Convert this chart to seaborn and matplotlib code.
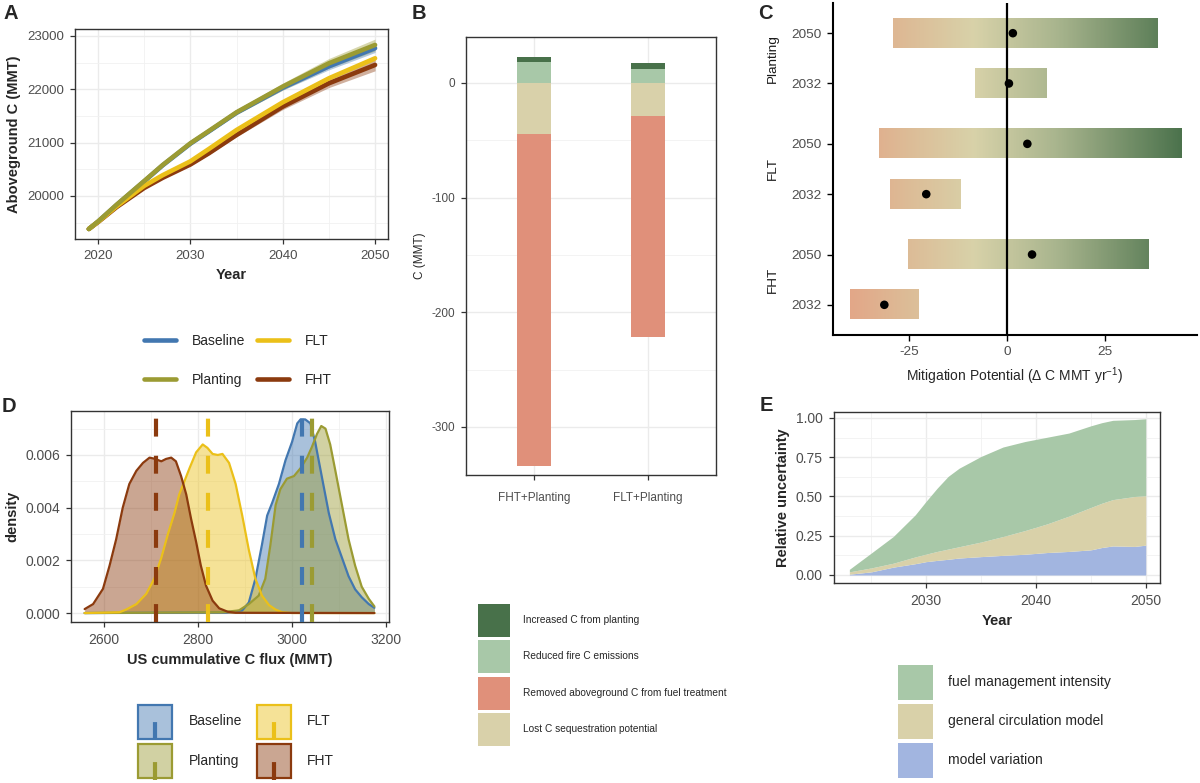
import numpy as np
import pandas as pd
import matplotlib
matplotlib.use("Agg")
import matplotlib.pyplot as plt
import seaborn as sns
from matplotlib.colors import LinearSegmentedColormap, Normalize, to_rgba
from matplotlib.lines import Line2D
from matplotlib.patches import Patch, Rectangle
from matplotlib.legend_handler import HandlerBase
from matplotlib.ticker import FixedLocator, FormatStrFormatter

sns.set_theme(style="ticks")
plt.rcParams["font.family"] = ["Liberation Sans", "DejaVu Sans"]
plt.rcParams["mathtext.fontset"] = "custom"
plt.rcParams["mathtext.rm"] = "Liberation Sans"
plt.rcParams["mathtext.it"] = "Liberation Sans:italic"
plt.rcParams["mathtext.default"] = "regular"
plt.rcParams["axes.unicode_minus"] = False

# ---------------- data ----------------
scenarios = ["Baseline", "FLT", "Planting", "FHT"]
scen_colors = {"Baseline": "#4277B0", "FLT": "#EBC019", "Planting": "#9B9B33", "FHT": "#8B3A0E"}

# Panel A: aboveground C (MMT)
years_a = [2019, 2020, 2022, 2025, 2027, 2030, 2032, 2035, 2040, 2045, 2050]
agc_baseline = [19381, 19520, 19830, 20275, 20575, 20980, 21210, 21560, 22030, 22430, 22770]
agc_planting = [19381, 19522, 19835, 20281, 20581, 20988, 21219, 21569, 22050, 22487, 22831]
agc_flt = [19381, 19515, 19805, 20190, 20390, 20650, 20881, 21237, 21756, 22206, 22581]
agc_fht = [19381, 19510, 19790, 20150, 20340, 20590, 20800, 21144, 21675, 22112, 22456]
band_baseline = [0, 5, 8, 12, 15, 20, 25, 30, 45, 65, 80]
band_planting = [0, 5, 8, 15, 20, 30, 35, 45, 65, 90, 110]
band_flt = [0, 4, 6, 10, 12, 15, 18, 22, 28, 35, 45]
band_fht = [0, 5, 8, 12, 15, 20, 25, 35, 55, 80, 110]

# Panel B: stacked C components (MMT)
b_categories = ["FHT+Planting", "FLT+Planting"]
b_increased_planting = [4.7, 5.0]
b_reduced_fire = [18.0, 12.2]
b_removed_treatment = [-289.0, -193.5]
b_lost_sequestration = [-45.0, -28.5]
b_labels = ["Increased C from planting", "Reduced fire C emissions",
            "Removed aboveground C from fuel treatment", "Lost C sequestration potential"]
b_colors = ["#48714A", "#A8C8A8", "#E0907A", "#D9D1AA"]

# Panel C: mitigation potential ranges
c_scenario = ["FHT", "FHT", "FLT", "FLT", "Planting", "Planting"]
c_year = ["2032", "2050", "2032", "2050", "2032", "2050"]
c_low = [-40.1, -25.3, -29.9, -32.7, -8.2, -29.1]
c_high = [-22.5, 36.2, -12.0, 44.6, 10.0, 38.3]
c_mid = [-31.3, 6.4, -20.6, 5.2, 0.5, 1.5]

# Panel D: density curves of cumulative C flux
d_x = {
    "FHT": [2559, 2577, 2598, 2612, 2626, 2640, 2654, 2669, 2683, 2697, 2707, 2722, 2732, 2743, 2753, 2764,
            2775, 2785, 2796, 2806, 2817, 2831, 2845, 2863, 2880, 3175],
    "FLT": [2559, 2633, 2647, 2669, 2690, 2707, 2722, 2736, 2750, 2760, 2771, 2782, 2796, 2810, 2820, 2831,
            2842, 2852, 2866, 2880, 2894, 2908, 2922, 2936, 2951, 2965, 2979, 3000, 3175],
    "Baseline": [2559, 2860, 2894, 2908, 2922, 2936, 2947, 2958, 2972, 2986, 3000, 3011, 3018, 3028, 3039,
                 3049, 3064, 3078, 3092, 3106, 3120, 3134, 3148, 3163, 3175],
    "Planting": [2559, 2850, 2887, 2908, 2929, 2943, 2954, 2965, 2975, 2989, 3004, 3018, 3032, 3042, 3053,
                 3062, 3071, 3081, 3092, 3106, 3120, 3134, 3148, 3163, 3175],
}
d_y = {
    "FHT": [0.00015, 0.00034, 0.00092, 0.0018, 0.0028, 0.0040, 0.0049, 0.0054, 0.0057, 0.0059, 0.00586,
            0.00576, 0.00585, 0.0059, 0.00576, 0.0052, 0.0045, 0.0036, 0.0027, 0.0018, 0.00104, 0.00047,
            0.00018, 0.00005, 0.00001, 0.0],
    "FLT": [0.0, 0.00003, 0.00013, 0.00034, 0.00073, 0.0013, 0.0021, 0.0030, 0.0038, 0.0045, 0.0050, 0.0055,
            0.0061, 0.0064, 0.00627, 0.00604, 0.0060, 0.00604, 0.0057, 0.0049, 0.0037, 0.0024, 0.0013,
            0.00066, 0.0003, 0.00013, 0.00003, 0.0, 0.0],
    "Baseline": [0.0, 0.00002, 0.0001, 0.0004, 0.0013, 0.0026, 0.0037, 0.0042, 0.0049, 0.0058, 0.0065,
                 0.0072, 0.00735, 0.00735, 0.0072, 0.0065, 0.0051, 0.0038, 0.0028, 0.0021, 0.0014, 0.0009,
                 0.0006, 0.00034, 0.0002],
    "Planting": [0.0, 0.00003, 0.0001, 0.00034, 0.00066, 0.0013, 0.0026, 0.0041, 0.0047, 0.0051, 0.0052,
                 0.0055, 0.0059, 0.0063, 0.0068, 0.0071, 0.0070, 0.0064, 0.0054, 0.0041, 0.0028, 0.0018,
                 0.0010, 0.00054, 0.00025],
}
d_mean = {"Baseline": 3021, "FLT": 2821, "Planting": 3042, "FHT": 2710}

# Panel E: relative uncertainty partition (layer thickness)
years_e = [2023, 2025, 2027, 2029, 2030, 2031, 2032, 2033, 2035, 2037, 2039, 2041, 2043, 2045, 2046, 2047, 2049, 2050]
unc_model_variation = [0.005, 0.020, 0.050, 0.072, 0.085, 0.093, 0.100, 0.108, 0.117, 0.125, 0.132, 0.143,
                       0.150, 0.160, 0.175, 0.185, 0.182, 0.190]
unc_gcm = [0.015, 0.025, 0.025, 0.043, 0.048, 0.057, 0.065, 0.072, 0.093, 0.120, 0.151, 0.182, 0.225, 0.270,
           0.282, 0.295, 0.318, 0.315]
unc_fuel_mgmt = [0.016, 0.095, 0.170, 0.268, 0.337, 0.403, 0.463, 0.500, 0.545, 0.570, 0.567, 0.552, 0.529,
                 0.520, 0.513, 0.505, 0.490, 0.490]
e_labels = ["model variation", "general circulation model", "fuel management intensity"]
e_colors = ["#A2B5E0", "#D9D1A9", "#A8C8A8"]

# ---------------- helpers ----------------
TICK_COL = "#4D4D4D"


def theme_bw(ax, labelsize=9.5, pad=4.5):
    ax.set_facecolor("white")
    for s in ax.spines.values():
        s.set_visible(True)
        s.set_color("#333333")
        s.set_linewidth(1.0)
    ax.grid(True, which="major", color="#EBEBEB", lw=1.0)
    ax.grid(True, which="minor", color="#F1F1F1", lw=0.6)
    ax.set_axisbelow(True)
    ax.tick_params(which="major", length=3.5, width=0.9, color="#333333",
                   labelcolor=TICK_COL, labelsize=labelsize, pad=pad,
                   bottom=True, left=True, top=False, right=False)
    ax.tick_params(which="minor", length=0)


W, H = 1200, 783
fig = plt.figure(figsize=(W / 100, H / 100), dpi=100)


def add_ax(l, r, t, b):
    return fig.add_axes([l / W, 1 - b / H, (r - l) / W, (b - t) / H])


# ---------------- Panel A ----------------
axA = add_ax(75, 388, 29, 239)
theme_bw(axA)
recs = []
bands = {"Baseline": band_baseline, "Planting": band_planting, "FLT": band_flt, "FHT": band_fht}
vals = {"Baseline": agc_baseline, "Planting": agc_planting, "FLT": agc_flt, "FHT": agc_fht}
for s in scenarios:
    for yr, v in zip(years_a, vals[s]):
        recs.append({"Year": yr, "C": v, "scenario": s})
dfA = pd.DataFrame(recs)
order_a = ["Baseline", "FHT", "FLT", "Planting"]
for s in order_a:
    v = np.array(vals[s], float)
    b = np.array(bands[s], float)
    axA.fill_between(years_a, v - b, v + b, color=scen_colors[s], alpha=0.4, lw=0)
sns.lineplot(data=dfA, x="Year", y="C", hue="scenario", hue_order=order_a, palette=scen_colors,
             lw=3.3, legend=False, ax=axA, estimator=None)
axA.set_xlim(2017.5, 2051.4)
axA.set_ylim(19193, 23130)
axA.xaxis.set_major_locator(FixedLocator([2020, 2030, 2040, 2050]))
axA.xaxis.set_minor_locator(FixedLocator([2025, 2035, 2045]))
axA.yaxis.set_major_locator(FixedLocator([20000, 21000, 22000, 23000]))
axA.yaxis.set_minor_locator(FixedLocator([19500, 20500, 21500, 22500]))
axA.set_xlabel("Year", fontsize=10.5, fontweight="bold", labelpad=4)
axA.set_ylabel("Aboveground C (MMT)", fontsize=10.5, fontweight="bold", labelpad=4)

hA = [Line2D([], [], color=scen_colors[s], lw=3.3) for s in ["Baseline", "Planting", "FLT", "FHT"]]
fig.legend(hA, ["Baseline", "Planting", "FLT", "FHT"], ncol=2, loc="center",
           bbox_to_anchor=(238 / W, 1 - 360.5 / H), frameon=False, fontsize=10,
           handlelength=2.3, handletextpad=1.15, columnspacing=0.9, labelspacing=1.75,
           borderpad=0)

# ---------------- Panel B ----------------
axB = add_ax(466, 716, 37, 475)
theme_bw(axB, labelsize=8.5)
axB.tick_params(axis="x", pad=9)
xb = np.arange(len(b_categories))
bw_ = 0.3
kw = dict(width=bw_, zorder=2, edgecolor="none", linewidth=0)
axB.bar(xb, b_reduced_fire, color=b_colors[1], **kw)
axB.bar(xb, b_increased_planting, bottom=b_reduced_fire, color=b_colors[0], **kw)
axB.bar(xb, b_lost_sequestration, color=b_colors[3], **kw)
axB.bar(xb, b_removed_treatment, bottom=b_lost_sequestration, color=b_colors[2], **kw)
axB.set_xlim(-0.6, 1.6)
axB.set_ylim(-342, 40)
axB.set_xticks(xb)
axB.set_xticklabels(b_categories)
axB.yaxis.set_major_locator(FixedLocator([-300, -200, -100, 0]))
axB.yaxis.set_minor_locator(FixedLocator([-250, -150, -50]))
axB.set_ylabel("C (MMT)", fontsize=8.5, labelpad=4)
axB.set_xlabel("")

hB = [Patch(facecolor=c, edgecolor="none") for c in b_colors]
fig.legend(hB, b_labels, loc="center", bbox_to_anchor=(602 / W, 1 - 675 / H), frameon=False,
           fontsize=7.3, handlelength=3.17, handleheight=4.64, labelspacing=0.3,
           handletextpad=1.3, borderpad=0)

# ---------------- Panel C ----------------
axC = add_ax(833, 1197, 3, 335)
group_order = ["FHT", "FLT", "Planting"]
c_ypos = [group_order.index(s) * 2.2 + (0 if y == "2032" else 1) for s, y in zip(c_scenario, c_year)]
cmap = LinearSegmentedColormap.from_list(
    "mit", [(0.0, "#E3A486"), (0.18, "#DDBB96"), (0.38, "#D8D2A9"), (0.62, "#A9B58E"), (1.0, "#48704A")])
norm = Normalize(vmin=-42, vmax=46)
for lo, hi, yp in zip(c_low, c_high, c_ypos):
    grad = np.linspace(lo, hi, 256)[None, :]
    axC.imshow(grad, cmap=cmap, norm=norm, extent=(lo, hi, yp - 0.29, yp + 0.29),
               aspect="auto", origin="lower", zorder=1, interpolation="bilinear")
axC.axvline(0, color="black", lw=1.6, zorder=2)
sns.scatterplot(x=c_mid, y=c_ypos, color="black", s=38, edgecolor="none", ax=axC, zorder=3)
axC.set_xlim(-44.4, 48.5)
axC.set_ylim(-0.6, 6.0)
axC.set_facecolor("white")
axC.spines["top"].set_visible(False)
axC.spines["right"].set_visible(False)
for s in ["left", "bottom"]:
    axC.spines[s].set_color("black")
    axC.spines[s].set_linewidth(1.5)
axC.set_xticks([-25, 0, 25])
axC.set_yticks(c_ypos)
axC.set_yticklabels(c_year)
axC.tick_params(length=4, width=1.0, color="black", labelcolor=TICK_COL, labelsize=9.7, pad=4)
axC.set_xlabel("Mitigation Potential (Δ C MMT yr$^{-1}$)", fontsize=10, labelpad=5)
for g in group_order:
    ys = [yp for yp, s in zip(c_ypos, c_scenario) if s == g]
    axC.text(-0.166, np.mean(ys), g, rotation=90, ha="center", va="center", fontsize=9.7,
             color="#1A1A1A", transform=axC.get_yaxis_transform())

# ---------------- Panel D ----------------
axD = add_ax(71, 389, 411, 622)
theme_bw(axD, labelsize=10)
recs = []
for s in scenarios:
    for xv, yv in zip(d_x[s], d_y[s]):
        recs.append({"flux": xv, "density": yv, "scenario": s})
dfD = pd.DataFrame(recs)
order_d = ["Baseline", "Planting", "FLT", "FHT"]
for s in order_d:
    axD.fill_between(d_x[s], 0, d_y[s], color=scen_colors[s], alpha=0.45, lw=0, zorder=2)
sns.lineplot(data=dfD, x="flux", y="density", hue="scenario", hue_order=order_d, palette=scen_colors,
             lw=1.6, legend=False, ax=axD, estimator=None, sort=False, zorder=3)
for s in order_d:
    axD.axvline(d_mean[s], color=scen_colors[s], lw=3.0, dashes=(4.3, 4.6), zorder=4)
axD.set_xlim(2530, 3206)
axD.set_ylim(-0.00034, 0.00767)
axD.xaxis.set_major_locator(FixedLocator([2600, 2800, 3000, 3200]))
axD.xaxis.set_minor_locator(FixedLocator([2700, 2900, 3100]))
axD.yaxis.set_major_locator(FixedLocator([0, 0.002, 0.004, 0.006]))
axD.yaxis.set_minor_locator(FixedLocator([0.001, 0.003, 0.005, 0.007]))
axD.yaxis.set_major_formatter(FormatStrFormatter("%.3f"))
axD.set_xlabel("US cummulative C flux (MMT)", fontsize=10.5, fontweight="bold", labelpad=4)
axD.set_ylabel("density", fontsize=10.5, fontweight="bold", labelpad=4)


class DensityKey(HandlerBase):
    def create_artists(self, legend, orig_handle, xdescent, ydescent, width, height, fontsize, trans):
        c = orig_handle.get_edgecolor()
        r = Rectangle((-xdescent + 1, -ydescent + 1), width - 2, height - 2,
                      facecolor=to_rgba(c, 0.45), edgecolor=c, lw=1.6, transform=trans)
        cx = -xdescent + width / 2
        ln = Line2D([cx, cx], [-ydescent, -ydescent + height], color=c, lw=3.0,
                    dashes=(4.3, 4.6), transform=trans)
        return [r, ln]


hD = [Patch(edgecolor=scen_colors[s], facecolor=scen_colors[s]) for s in ["Baseline", "Planting", "FLT", "FHT"]]
fig.legend(hD, ["Baseline", "Planting", "FLT", "FHT"], ncol=2, loc="center",
           bbox_to_anchor=(235.5 / W, 1 - 741.5 / H), frameon=False, fontsize=10,
           handlelength=2.66, handleheight=3.72, labelspacing=0.2, handletextpad=1.08,
           columnspacing=0.93, borderpad=0, handler_map={Patch: DensityKey()})

# ---------------- Panel E ----------------
axE = add_ax(834, 1160, 412, 583)
theme_bw(axE, labelsize=10)
axE.stackplot(years_e, unc_model_variation, unc_gcm, unc_fuel_mgmt, colors=e_colors, lw=0, zorder=2)
axE.set_xlim(2021.6, 2051.3)
axE.set_ylim(-0.051, 1.038)
axE.xaxis.set_major_locator(FixedLocator([2030, 2040, 2050]))
axE.xaxis.set_minor_locator(FixedLocator([2025, 2035, 2045]))
axE.yaxis.set_major_locator(FixedLocator([0, 0.25, 0.5, 0.75, 1.0]))
axE.yaxis.set_minor_locator(FixedLocator([0.125, 0.375, 0.625, 0.875]))
axE.yaxis.set_major_formatter(FormatStrFormatter("%.2f"))
axE.set_xlabel("Year", fontsize=10.5, fontweight="bold", labelpad=4)
axE.set_ylabel("Relative uncertainty", fontsize=10.5, fontweight="bold", labelpad=4)

hE = [Patch(facecolor=e_colors[i], edgecolor="none") for i in [2, 1, 0]]
fig.legend(hE, [e_labels[i] for i in [2, 1, 0]], loc="center",
           bbox_to_anchor=(1004.5 / W, 1 - 721.5 / H), frameon=False, fontsize=10,
           handlelength=2.52, handleheight=3.6, labelspacing=0.22, handletextpad=1.08, borderpad=0)

# ---------------- panel letters ----------------
for lab, x, y in [("A", 3, 4), ("B", 412, 4), ("C", 758, 4), ("D", 2, 397), ("E", 760, 396)]:
    fig.text(x / W, 1 - y / H, lab, fontsize=14.5, fontweight="bold", ha="left", va="top")

fig.savefig("out.png", dpi=100, facecolor="white")
